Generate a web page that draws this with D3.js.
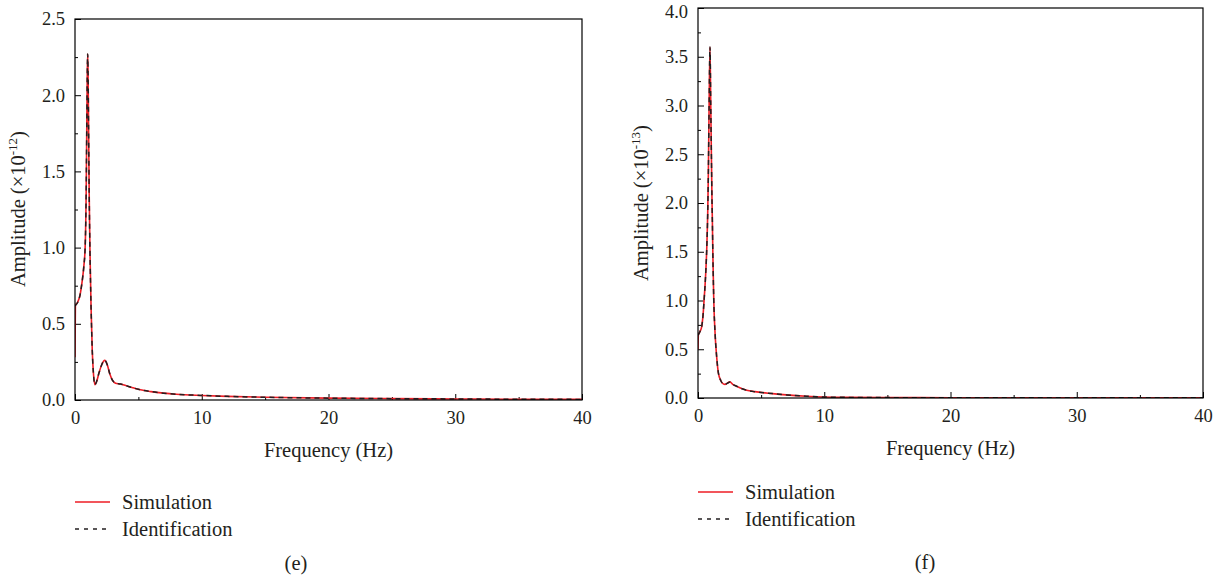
<!DOCTYPE html>
<html><head><meta charset="utf-8">
<script src="https://cdn.jsdelivr.net/npm/d3@7"></script>
<style>
html,body{margin:0;padding:0;background:#fff;}
svg text{font-family:"Liberation Serif","DejaVu Serif",serif;fill:#231f20;}
</style></head>
<body><svg id="c" width="1222" height="577"></svg>
<script>
// ---- Data (panel e) ----
const freqE = [0,0.03,0.2,0.4,0.55,0.7,0.8,0.88,0.93,0.97,1.0,1.03,1.07,1.12,1.18,1.27,1.36,1.45,1.57,1.7,1.9,2.1,2.35,2.55,2.75,2.95,3.2,3.6,4.0,4.5,5,6,7,8,10,12,15,20,25,30,35,40];
const simE  = [0.28,0.62,0.64,0.69,0.77,0.88,1.0,1.35,1.8,2.15,2.27,2.15,1.8,1.35,0.98,0.6,0.33,0.18,0.10,0.12,0.18,0.23,0.26,0.23,0.17,0.13,0.11,0.105,0.095,0.082,0.07,0.055,0.045,0.038,0.03,0.024,0.018,0.012,0.009,0.007,0.005,0.004];
const idE   = [0.62,0.62,0.64,0.69,0.77,0.88,1.0,1.35,1.8,2.15,2.27,2.15,1.8,1.35,0.98,0.6,0.33,0.18,0.10,0.12,0.18,0.23,0.26,0.23,0.17,0.13,0.11,0.105,0.095,0.082,0.07,0.055,0.045,0.038,0.03,0.024,0.018,0.012,0.009,0.007,0.005,0.004];
// ---- Data (panel f) ----
const freqF = [0,0.03,0.15,0.29,0.4,0.48,0.6,0.69,0.77,0.82,0.88,0.95,1.01,1.07,1.1,1.14,1.18,1.25,1.35,1.48,1.61,1.8,2.0,2.14,2.3,2.53,2.75,3.06,3.5,3.85,4.5,5.9,7,8.6,10,12,15,20,30,40];
const simF  = [0.5,0.65,0.68,0.73,0.85,1.0,1.25,1.52,1.9,2.3,3.0,3.6,3.0,2.4,2.1,1.8,1.45,1.0,0.67,0.42,0.26,0.18,0.145,0.14,0.15,0.165,0.14,0.12,0.095,0.08,0.065,0.045,0.032,0.018,0.01,0.006,0.004,0.003,0.002,0.002];
const idF   = [0.65,0.65,0.68,0.73,0.85,1.0,1.25,1.52,1.9,2.3,3.0,3.6,3.0,2.4,2.1,1.8,1.45,1.0,0.67,0.42,0.26,0.18,0.145,0.14,0.15,0.165,0.14,0.12,0.095,0.08,0.065,0.045,0.032,0.018,0.01,0.006,0.004,0.003,0.002,0.002];
// ---- Tick labels ----
const xTicks = [0,10,20,30,40];
const xMinor = [5,15,25,35];
const yTicksE = [0,0.5,1.0,1.5,2.0,2.5];
const yTicksF = [0,0.5,1.0,1.5,2.0,2.5,3.0,3.5,4.0];
const legendLabels = ["Simulation","Identification"];
const xTitle = "Frequency (Hz)";

const svg = d3.select("#c");
const FONT = "Liberation Serif, DejaVu Serif, serif";

function panel(o){
  const g = svg.append("g");
  const x = d3.scaleLinear().domain([0,40]).range([o.left,o.right]);
  const y = d3.scaleLinear().domain([0,o.ymax]).range([o.bottom,o.top]);
  const yMinor = d3.range(0.25,o.ymax,0.5);
  g.append("g").attr("transform",`translate(0,${o.bottom})`)
    .call(d3.axisBottom(x).tickValues(xMinor).tickSize(-3).tickFormat(""))
    .call(a=>a.select(".domain").remove());
  g.append("g").attr("transform",`translate(${o.left},0)`)
    .call(d3.axisLeft(y).tickValues(yMinor).tickSize(-3).tickFormat(""))
    .call(a=>a.select(".domain").remove());
  const xa = g.append("g").attr("transform",`translate(0,${o.bottom})`)
    .call(d3.axisBottom(x).tickValues(xTicks).tickSize(-6).tickPadding(11).tickFormat(d3.format("d")));
  xa.select(".domain").remove();
  xa.selectAll("text").attr("dy","0.71em");
  const ya = g.append("g").attr("transform",`translate(${o.left},0)`)
    .call(d3.axisLeft(y).tickValues(o.yTicks).tickSize(-6).tickPadding(10).tickFormat(d3.format(".1f")));
  ya.select(".domain").remove();
  // keep the topmost label inside the picture
  ya.selectAll(".tick text").filter(d=>y(d)<14).attr("dy","0.5em");
  g.selectAll(".tick line").attr("stroke","#000");
  g.selectAll(".tick text").style("fill","#231f20").style("font-family",FONT).style("font-size","18.5px");

  const clip = "clip"+o.id;
  g.append("clipPath").attr("id",clip).append("rect")
    .attr("x",o.left).attr("y",o.top-10).attr("width",o.right-o.left).attr("height",o.bottom-o.top+10);
  const line = (vals)=>d3.line().x((d,i)=>x(o.freq[i])).y(d=>y(d)).curve(d3.curveMonotoneX)(vals);
  g.append("path").attr("d",line(o.sim)).attr("fill","none").attr("stroke","#ee1c25").attr("stroke-width",1.6).attr("clip-path",`url(#${clip})`);
  g.append("path").attr("d",line(o.ident)).attr("fill","none").attr("stroke","#231f20").attr("stroke-width",1.5).attr("stroke-dasharray","5,4").attr("clip-path",`url(#${clip})`);
  g.append("rect").attr("x",o.left).attr("y",o.top).attr("width",o.right-o.left).attr("height",o.bottom-o.top)
    .attr("fill","none").attr("stroke","#000").attr("stroke-width",1.2);
  const yt = g.append("text").attr("transform",`translate(${o.ytx},${o.ytc}) rotate(-90)`)
    .attr("text-anchor","middle").style("font-size","20.5px");
  yt.append("tspan").text("Amplitude (×10");
  yt.append("tspan").style("font-size","13px").attr("dy",-8).text(o.exp);
  yt.append("tspan").attr("dy",8).text(")");
  g.append("text").attr("x",(o.left+o.right)/2).attr("y",o.xty).attr("text-anchor","middle").style("font-size","20.5px").text(xTitle);
  g.append("line").attr("x1",o.left).attr("x2",o.left+35).attr("y1",o.ly).attr("y2",o.ly).attr("stroke","#ee1c25").attr("stroke-width",1.4);
  g.append("line").attr("x1",o.left).attr("x2",o.left+35).attr("y1",o.ly+27).attr("y2",o.ly+27).attr("stroke","#231f20").attr("stroke-width",1.4).attr("stroke-dasharray","4,5");
  g.append("text").attr("x",o.left+47).attr("y",o.ly).attr("dy","0.33em").style("font-size","20.5px").text(legendLabels[0]);
  g.append("text").attr("x",o.left+47).attr("y",o.ly+27).attr("dy","0.33em").style("font-size","20.5px").text(legendLabels[1]);
  g.append("text").attr("x",o.capx).attr("y",o.capy).attr("text-anchor","middle").style("font-size","20.5px").text(o.cap);
}

panel({id:"e",left:75,right:582,top:19,bottom:400,ymax:2.5,yTicks:yTicksE,freq:freqE,sim:simE,ident:idE,
  exp:"-12",ytx:25,ytc:209,xty:457,ly:502,capx:296,capy:570,cap:"(e)"});
panel({id:"f",left:698,right:1203,top:8,bottom:398,ymax:4.0,yTicks:yTicksF,freq:freqF,sim:simF,ident:idF,
  exp:"-13",ytx:648,ytc:203,xty:455,ly:492,capx:925,capy:569,cap:"(f)"});
</script></body></html>
